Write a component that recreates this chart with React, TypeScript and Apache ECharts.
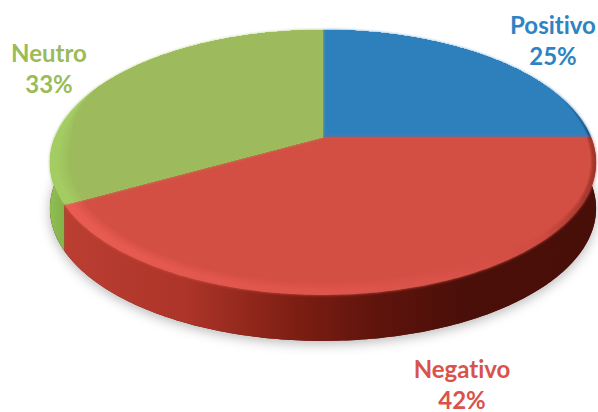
import React, { useEffect, useRef } from "react";
import * as echarts from "echarts";

const categories = ["Positivo", "Negativo", "Neutro"];
const shares = [25, 42, 33];
const labelColors = ["#2e84c2", "#d9534a", "#9bbb59"];
const faceColors = ["#2e80bd", "#d34f44", "#9dbb5d"];
const labelAnchors = [[553, 40], [462, 383.5], [49, 67.5]];

// perspective of the disc
const CX = 323, CY = 137, RX = 268, RY = 127.6, K = 0.192, DEPTH = 46;

const project = (theta: number, r = 1, dy = 0): number[] => {
  const u = Math.cos(theta) * r;
  const v = Math.sin(theta) * r;
  const w = 1 - K * v;
  return [CX + (RX * u) / w, CY + dy + (RY * v) / w];
};
const arcPts = (a0: number, a1: number, rf: (t: number) => number, dy = 0) => {
  const n = Math.max(4, Math.ceil(Math.abs(a1 - a0) / 0.015));
  const out: number[][] = [];
  for (let i = 0; i <= n; i++) {
    const t = a0 + ((a1 - a0) * i) / n;
    out.push(project(t, rf(t), dy));
  }
  return out;
};
const sliceAngles = (i: number) => {
  const total = shares.reduce((a, b) => a + b, 0);
  let acc = 0;
  for (let k = 0; k < i; k++) acc += shares[k];
  const a0 = -Math.PI / 2 + (acc / total) * Math.PI * 2;
  const a1 = a0 + (shares[i] / total) * Math.PI * 2;
  return [a0, a1];
};
const hGrad = (stops: [number, string][]) =>
  new echarts.graphic.LinearGradient(
    50, 0, 596, 0,
    stops.map(([p, color]) => ({ offset: p, color })),
    true
  );

const sideFills = [
  null,
  [[0, "#bd3f34"], [0.25, "#ad3428"], [0.45, "#7d1e13"], [0.6, "#5e140c"], [0.75, "#4b0f09"], [1, "#480e08"]],
  [[0, "#8fbf50"], [0.04, "#7fa947"], [1, "#7fa947"]],
] as ([number, string][] | null)[];
const rimFills = [
  [[0, "#2e80bd"], [0.93, "#2e80bd"], [0.98, "#245f8c"], [1, "#1c3c55"]],
  [[0, "#e95c52"], [0.4, "#e0564c"], [0.7, "#d9534a"], [0.9, "#d04c42"], [1, "#a0352a"]],
  [[0, "#a3cc62"], [1, "#a3cc62"]],
] as [number, string][][];

const smooth = (a: number, b: number, x: number) => {
  const t = Math.min(1, Math.max(0, (x - a) / (b - a)));
  return t * t * (3 - 2 * t);
};

const renderSide = (params: any) => {
  const i = params.dataIndex;
  const children: any[] = [];
  if (i === 0) {
    children.push({
      type: "polygon",
      shape: { points: arcPts(0, Math.PI * 2, () => 1, DEPTH) },
      style: { fill: "#5a1810", shadowBlur: 12, shadowColor: "rgba(0,0,0,0.28)", shadowOffsetY: 3 },
    });
  }
  const fill = sideFills[i];
  if (fill) {
    const [a0, a1] = sliceAngles(i);
    const s = Math.max(a0, 0);
    const e = Math.min(a1, Math.PI);
    const pts = [...arcPts(s, e, () => 1), ...arcPts(e, s, () => 1, DEPTH)];
    children.push({ type: "polygon", shape: { points: pts }, style: { fill: hGrad(fill) } });
  }
  return { type: "group", children };
};

const renderTop = (params: any) => {
  const i = params.dataIndex;
  const [a0, a1] = sliceAngles(i);
  const children: any[] = [];
  const LAYERS = 9;
  const BAND = i === 0 ? 0.012 : 0.065;
  for (let l = 0; l <= LAYERS; l++) {
    const t = l / LAYERS;
    const rf = (th: number) => {
      const vis = i === 0 ? smooth(-0.6, -0.1, Math.sin(th)) : smooth(-0.45, 0.1, Math.sin(th));
      const narrow = i === 0 ? 1 : 1 - 0.7 * smooth(0.3, 0.95, Math.cos(th));
      return 1 - BAND * t * vis * narrow;
    };
    const pts = [[CX, CY], ...arcPts(a0, a1, rf)];
    const fade = t < 0.4 ? 0 : (t - 0.4) / 0.6;
    children.push({
      type: "polygon",
      shape: { points: pts },
      style: l === LAYERS
        ? { fill: faceColors[i] }
        : l === 0
          ? { fill: hGrad(rimFills[i]), shadowBlur: 3, shadowColor: faceColors[i] }
          : { fill: hGrad(rimFills[i]) },
    });
    if (l < LAYERS && fade > 0) {
      children.push({
        type: "polygon",
        shape: { points: pts },
        style: { fill: faceColors[i], opacity: fade },
      });
    }
  }
  const [lx, ly] = labelAnchors[i];
  const textStyle = {
    align: "center",
    verticalAlign: "middle",
    fill: labelColors[i],
    font: 'bold 24px Lato, "Open Sans", sans-serif',
  };
  children.push({ type: "text", style: { ...textStyle, text: categories[i], x: lx, y: ly - 15.5 } });
  children.push({ type: "text", style: { ...textStyle, text: `${shares[i]}%`, x: lx, y: ly + 15.5 } });
  return { type: "group", children };
};

export default function App() {
  const ref = useRef<HTMLDivElement>(null);
  useEffect(() => {
    if (!ref.current) return;
    const chart = echarts.init(ref.current, null, { renderer: "svg" });
    const data = categories.map((name, i) => ({ name, value: shares[i] }));
    chart.setOption({
      animation: false,
      backgroundColor: "#ffffff",
      series: [
        { type: "custom", coordinateSystem: "none", silent: true, z: 1, data, renderItem: renderSide },
        { type: "custom", coordinateSystem: "none", silent: true, z: 2, data, renderItem: renderTop },
      ],
    });
    return () => chart.dispose();
  }, []);
  return (
    <>
      <style>{`#root text { font-variant-ligatures: none !important; }`}</style>
      <div ref={ref} style={{ position: "absolute", left: 0, top: 0, width: 598, height: 412 }} />
    </>
  );
}
